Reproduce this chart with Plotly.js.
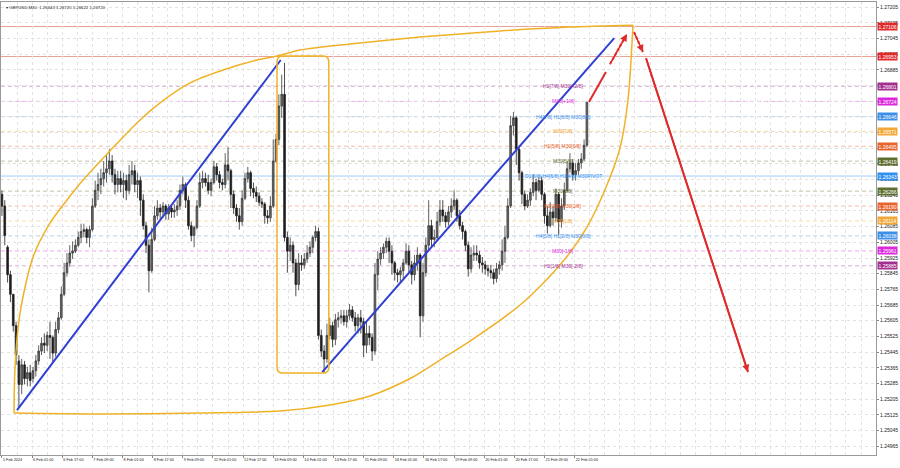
<!DOCTYPE html>
<html><head><meta charset="utf-8">
<script src="https://cdn.plot.ly/plotly-3.0.1.min.js"></script>
<style>html,body{margin:0;padding:0;background:#fff;}#chart{width:900px;height:468px;}</style>
</head><body><div id="chart"></div>
<script>
// GBPUSD M30, each drawn candle aggregates 3 M30 bars
const barStep = 3;
const openP = [1.2625,1.2619,1.2598,1.2584,1.2574,1.2558,1.2540,1.2528,1.2538,1.2531,
1.2534,1.2531,1.2535,1.2540,1.2545,1.2549,1.2548,1.2553,1.2552,1.2544,
1.2556,1.2562,1.2574,1.2585,1.2590,1.2595,1.2596,1.2599,1.2603,1.2606,
1.2607,1.2603,1.2607,1.2619,1.2627,1.2630,1.2633,1.2636,1.2638,1.2642,
1.2635,1.2630,1.2633,1.2630,1.2632,1.2627,1.2635,1.2637,1.2630,1.2632,
1.2622,1.2609,1.2599,1.2586,1.2602,1.2614,1.2618,1.2616,1.2619,1.2615,
1.2618,1.2616,1.2617,1.2619,1.2627,1.2630,1.2622,1.2609,1.2604,1.2608,
1.2619,1.2631,1.2633,1.2631,1.2627,1.2631,1.2639,1.2635,1.2631,1.2630,
1.2640,1.2637,1.2625,1.2618,1.2614,1.2611,1.2623,1.2633,1.2636,1.2628,
1.2626,1.2624,1.2621,1.2620,1.2614,1.2613,1.2619,1.2642,1.2653,1.2670,
1.2676,1.2603,1.2596,1.2599,1.2590,1.2579,1.2590,1.2589,1.2592,1.2595,
1.2598,1.2603,1.2606,1.2553,1.2545,1.2541,1.2553,1.2558,1.2551,1.2561,
1.2562,1.2563,1.2560,1.2563,1.2566,1.2562,1.2558,1.2562,1.2560,1.2548,
1.2554,1.2552,1.2545,1.2584,1.2592,1.2595,1.2598,1.2601,1.2596,1.2590,
1.2585,1.2584,1.2586,1.2590,1.2596,1.2589,1.2584,1.2590,1.2594,1.2563,
1.2585,1.2599,1.2609,1.2602,1.2603,1.2611,1.2617,1.2614,1.2611,1.2616,
1.2619,1.2622,1.2614,1.2609,1.2606,1.2599,1.2587,1.2594,1.2595,1.2594,
1.2590,1.2589,1.2587,1.2586,1.2585,1.2582,1.2587,1.2589,1.2596,1.2603,
1.2619,1.2660,1.2664,1.2648,1.2636,1.2625,1.2619,1.2622,1.2626,1.2631,
1.2627,1.2632,1.2625,1.2614,1.2609,1.2616,1.2613,1.2625,1.2611,1.2619,
1.2627,1.2638,1.2641,1.2635,1.2637,1.2641,1.2643,1.2650];
const highP = [1.2627,1.2622,1.2599,1.2586,1.2574,1.2560,1.2543,1.2541,1.2540,1.2537,
1.2538,1.2537,1.2543,1.2548,1.2552,1.2554,1.2555,1.2560,1.2553,1.2560,
1.2565,1.2578,1.2590,1.2595,1.2599,1.2601,1.2602,1.2606,1.2610,1.2610,
1.2608,1.2609,1.2623,1.2632,1.2636,1.2638,1.2642,1.2645,1.2648,1.2645,
1.2638,1.2637,1.2637,1.2636,1.2635,1.2640,1.2642,1.2640,1.2636,1.2634,
1.2625,1.2611,1.2602,1.2608,1.2619,1.2622,1.2620,1.2621,1.2620,1.2620,
1.2620,1.2620,1.2622,1.2630,1.2634,1.2631,1.2624,1.2611,1.2609,1.2622,
1.2636,1.2637,1.2636,1.2635,1.2633,1.2642,1.2641,1.2637,1.2633,1.2646,
1.2649,1.2638,1.2627,1.2620,1.2618,1.2627,1.2636,1.2639,1.2637,1.2631,
1.2629,1.2626,1.2623,1.2621,1.2617,1.2624,1.2653,1.2656,1.2676,1.2686,
1.2692,1.2606,1.2603,1.2601,1.2592,1.2595,1.2594,1.2595,1.2599,1.2601,
1.2604,1.2609,1.2608,1.2556,1.2548,1.2559,1.2562,1.2560,1.2564,1.2565,
1.2566,1.2566,1.2566,1.2569,1.2568,1.2565,1.2564,1.2566,1.2562,1.2560,
1.2558,1.2554,1.2590,1.2596,1.2598,1.2600,1.2603,1.2603,1.2599,1.2591,
1.2587,1.2588,1.2592,1.2600,1.2599,1.2591,1.2594,1.2598,1.2595,1.2590,
1.2603,1.2622,1.2612,1.2607,1.2616,1.2622,1.2622,1.2616,1.2619,1.2623,
1.2627,1.2623,1.2617,1.2611,1.2607,1.2601,1.2598,1.2599,1.2599,1.2596,
1.2593,1.2591,1.2589,1.2589,1.2587,1.2590,1.2591,1.2602,1.2609,1.2623,
1.2665,1.2667,1.2665,1.2649,1.2637,1.2627,1.2625,1.2628,1.2635,1.2633,
1.2634,1.2634,1.2626,1.2619,1.2621,1.2619,1.2628,1.2626,1.2623,1.2631,
1.2642,1.2646,1.2643,1.2641,1.2643,1.2646,1.2653,1.2672];
const lowP = [1.2614,1.2599,1.2580,1.2570,1.2555,1.2538,1.2516,1.2523,1.2528,1.2527,
1.2527,1.2529,1.2532,1.2538,1.2543,1.2544,1.2545,1.2541,1.2539,1.2542,
1.2554,1.2561,1.2573,1.2583,1.2588,1.2592,1.2595,1.2598,1.2600,1.2603,
1.2600,1.2598,1.2606,1.2618,1.2622,1.2625,1.2629,1.2631,1.2635,1.2631,
1.2625,1.2626,1.2626,1.2623,1.2622,1.2625,1.2630,1.2626,1.2623,1.2614,
1.2607,1.2595,1.2575,1.2585,1.2601,1.2612,1.2612,1.2613,1.2612,1.2612,
1.2613,1.2613,1.2614,1.2617,1.2625,1.2618,1.2607,1.2601,1.2598,1.2607,
1.2618,1.2628,1.2629,1.2625,1.2624,1.2630,1.2632,1.2628,1.2627,1.2628,
1.2632,1.2618,1.2615,1.2611,1.2607,1.2609,1.2622,1.2631,1.2624,1.2623,
1.2621,1.2619,1.2618,1.2610,1.2610,1.2611,1.2618,1.2641,1.2650,1.2664,
1.2601,1.2585,1.2591,1.2585,1.2573,1.2576,1.2586,1.2587,1.2590,1.2593,
1.2595,1.2601,1.2551,1.2542,1.2534,1.2539,1.2551,1.2547,1.2548,1.2557,
1.2559,1.2558,1.2557,1.2561,1.2560,1.2555,1.2554,1.2554,1.2542,1.2544,
1.2548,1.2540,1.2543,1.2576,1.2589,1.2592,1.2595,1.2590,1.2584,1.2581,
1.2580,1.2580,1.2582,1.2589,1.2585,1.2579,1.2581,1.2586,1.2552,1.2560,
1.2583,1.2596,1.2598,1.2598,1.2601,1.2609,1.2611,1.2608,1.2609,1.2613,
1.2617,1.2611,1.2607,1.2602,1.2596,1.2583,1.2585,1.2591,1.2591,1.2587,
1.2585,1.2584,1.2583,1.2582,1.2579,1.2580,1.2584,1.2586,1.2590,1.2602,
1.2618,1.2655,1.2640,1.2632,1.2620,1.2617,1.2618,1.2619,1.2624,1.2622,
1.2626,1.2622,1.2610,1.2605,1.2608,1.2609,1.2611,1.2604,1.2608,1.2617,
1.2626,1.2636,1.2632,1.2632,1.2635,1.2638,1.2642,1.2649];
const closeP = [1.2619,1.2604,1.2584,1.2574,1.2558,1.2543,1.2528,1.2538,1.2531,1.2534,
1.2530,1.2535,1.2540,1.2545,1.2549,1.2548,1.2553,1.2552,1.2544,1.2556,
1.2562,1.2574,1.2585,1.2590,1.2595,1.2596,1.2599,1.2603,1.2606,1.2607,
1.2603,1.2607,1.2619,1.2627,1.2630,1.2633,1.2636,1.2638,1.2642,1.2635,
1.2630,1.2633,1.2630,1.2632,1.2627,1.2635,1.2637,1.2630,1.2632,1.2622,
1.2609,1.2599,1.2586,1.2602,1.2614,1.2618,1.2616,1.2619,1.2615,1.2618,
1.2616,1.2617,1.2619,1.2627,1.2630,1.2622,1.2609,1.2604,1.2608,1.2619,
1.2631,1.2633,1.2631,1.2627,1.2631,1.2639,1.2635,1.2631,1.2630,1.2640,
1.2637,1.2625,1.2618,1.2614,1.2611,1.2623,1.2633,1.2636,1.2628,1.2626,
1.2624,1.2621,1.2620,1.2614,1.2613,1.2619,1.2642,1.2653,1.2670,1.2676,
1.2603,1.2596,1.2599,1.2590,1.2579,1.2590,1.2589,1.2592,1.2595,1.2598,
1.2603,1.2606,1.2553,1.2545,1.2541,1.2553,1.2558,1.2551,1.2561,1.2562,
1.2563,1.2560,1.2563,1.2566,1.2562,1.2558,1.2562,1.2560,1.2548,1.2554,
1.2552,1.2545,1.2584,1.2592,1.2595,1.2598,1.2601,1.2596,1.2590,1.2585,
1.2584,1.2586,1.2590,1.2596,1.2589,1.2584,1.2590,1.2594,1.2563,1.2585,
1.2599,1.2609,1.2602,1.2603,1.2611,1.2617,1.2614,1.2611,1.2616,1.2619,
1.2622,1.2614,1.2609,1.2606,1.2599,1.2587,1.2594,1.2595,1.2594,1.2590,
1.2589,1.2587,1.2586,1.2585,1.2582,1.2587,1.2589,1.2596,1.2603,1.2619,
1.2660,1.2664,1.2648,1.2636,1.2625,1.2619,1.2622,1.2626,1.2631,1.2627,
1.2632,1.2625,1.2614,1.2609,1.2616,1.2613,1.2625,1.2611,1.2619,1.2627,
1.2638,1.2641,1.2635,1.2637,1.2641,1.2643,1.2650,1.2672];

// time axis (M30 bar index), labels every 32 bars
const timeTickBars = [0,32,64,96,128,160,192,224,256,288,320,352,384,416,448,480,512,544,576,608];
const timeTickLabels = ["5 Feb 2024","6 Feb 01:00","6 Feb 17:00","7 Feb 09:00","8 Feb 01:00","8 Feb 17:00","9 Feb 09:00","12 Feb 01:00","12 Feb 17:00","13 Feb 09:00","14 Feb 01:00","14 Feb 17:00","15 Feb 09:00","16 Feb 01:00","16 Feb 17:00","19 Feb 09:00","20 Feb 01:00","20 Feb 17:00","21 Feb 09:00","22 Feb 01:00"];
const priceTicks = [1.27205,1.27125,1.27045,1.26965,1.26885,1.26805,1.26725,1.26645,1.26565,1.26485,1.26405,1.26325,1.26245,1.26165,1.26085,1.26005,1.25925,1.25845,1.25765,1.25685,1.25605,1.25525,1.25445,1.25365,1.25285,1.25205,1.25125,1.25045,1.24965];

// Murrey-math style levels
const levelPrices = [1.26801,1.26724,1.26646,1.26571,1.26495,1.26419,1.26343,1.26266,1.26190,1.26114,1.26038,1.25961,1.25885];
const levelNames = ["H1[7/8] M30[+2/8]","M30[+1/8]","H4[7/8] H1[6/8] M30[8/8]","M30[7/8]","H1[5/8] M30[6/8]","M30[5/8]","D1[5/8] H4[6/8] H1[4/8] M30PIVOT","M30[3/8]","H1[3/8] M30[2/8]","M30[1/8]","H4[5/8] H1[2/8] M30[0/8]","M30[-1/8]","H1[1/8] M30[-2/8]"];
const levelColors = ["#a3308f","#dc28dc","#3c8ee6","#f0a838","#e8642c","#5e6e2e","#3090f0","#5e6e2e","#e8642c","#f0a838","#3c8ee6","#dc28dc","#a3308f"];
const redLevels = [1.27106,1.26953];

// drawn objects (bar index, price)
const trend1Bars = [16, 296], trend1Price = [1.25149, 1.26935];
const trend2Bars = [340, 650], trend2Price = [1.25343, 1.27047];
const arcTopBars = [12.8,13.9,19.2,33.0,51.0,69.1,86.1,146.6,167.8,199.6,234.7,270.8,292.0,316.4,369.5,443.8,528.7,603.0,669.9];
const arcTopPrice = [1.25134,1.25369,1.25644,1.25930,1.26103,1.26221,1.26323,1.26629,1.26716,1.26818,1.26884,1.26935,1.26955,1.26986,1.27017,1.27052,1.27083,1.27103,1.27113];
const arcBotBars = [12.8,104.1,210.3,295.2,348.3,390.7,436.4,465.0,496.9,550.0,592.4,621.1,642.3,656.1,664.6,669.9];
const arcBotPrice = [1.25134,1.25129,1.25134,1.25144,1.25175,1.25221,1.25318,1.25404,1.25501,1.25685,1.25889,1.26083,1.26297,1.26486,1.26731,1.27113];
const boxBars = [292, 347], boxPrice = [1.25338, 1.26955];
const arrowUpBars = [623.2, 641.2], arrowUpPrice = [1.26721, 1.26874];
const arrowUpDashBars = [645.5, 663.5], arrowUpDashPrice = [1.26914, 1.27068];
const arrowDnDashBars = [671.0, 680.5], arrowDnDashPrice = [1.27078, 1.26976];
const arrowDnBars = [683.7, 792.0], arrowDnPrice = [1.26945, 1.25343];
const levelLabelBar = 596;

const FONT = "Liberation Sans, Arial, sans-serif";
const barIdx = openP.map((_, i) => i * barStep);
const allTags = levelPrices.concat(redLevels);
// price labels that sit fully under a coloured price tag are not visible
const priceTickText = priceTicks.map(v => allTags.some(t => Math.abs(t - v) < 0.00011) ? '' : v.toFixed(5));

const traces = [];
traces.push({type:'scatter', mode:'lines', x:arcTopBars, y:arcTopPrice, line:{color:'#efb225', width:1.5, shape:'spline', smoothing:0.8}, hoverinfo:'skip'});
traces.push({type:'scatter', mode:'lines', x:arcBotBars, y:arcBotPrice, line:{color:'#efb225', width:1.5, shape:'spline', smoothing:0.8}, hoverinfo:'skip'});
traces.push({type:'candlestick', x:barIdx, open:openP, high:highP, low:lowP, close:closeP,
  increasing:{line:{color:'#3a3a3a', width:0.8}, fillcolor:'#6a6a6a'},
  decreasing:{line:{color:'#1e1e1e', width:0.8}, fillcolor:'#1e1e1e'},
  whiskerwidth:0, hoverinfo:'skip'});
traces.push({type:'scatter', mode:'lines', x:trend1Bars, y:trend1Price, line:{color:'#2f3fd2', width:2}, hoverinfo:'skip'});
traces.push({type:'scatter', mode:'lines', x:trend2Bars, y:trend2Price, line:{color:'#2f3fd2', width:2}, hoverinfo:'skip'});
traces.push({type:'scatter', mode:'lines', x:arrowUpBars, y:arrowUpPrice, line:{color:'#e02a2a', width:2}, hoverinfo:'skip'});
traces.push({type:'scatter', mode:'lines', x:arrowUpDashBars, y:arrowUpDashPrice, line:{color:'#e02a2a', width:2, dash:'3px,2px'}, hoverinfo:'skip'});
traces.push({type:'scatter', mode:'lines', x:arrowDnDashBars, y:arrowDnDashPrice, line:{color:'#e02a2a', width:2, dash:'3px,2px'}, hoverinfo:'skip'});
traces.push({type:'scatter', mode:'lines', x:arrowDnBars, y:arrowDnPrice, line:{color:'#e02a2a', width:2}, hoverinfo:'skip'});

const shapes = [];
levelPrices.forEach((p, i) => {
  shapes.push({type:'line', xref:'paper', x0:0, x1:1, yref:'y', y0:p, y1:p, layer:'below',
    line:{color:levelColors[i], width:1, dash: i===6 ? 'solid' : '4px,3px'}, opacity: i===6 ? 0.45 : 0.4});
});
redLevels.forEach(p => {
  shapes.push({type:'line', xref:'paper', x0:0, x1:1, yref:'y', y0:p, y1:p, layer:'below',
    line:{color:'#e08a7a', width:1}, opacity:0.8});
});
// rounded box
{
  const x0 = boxBars[0], x1 = boxBars[1], yb = boxPrice[0], yt = boxPrice[1];
  const rx = 6, ry = 0.0003;
  const path = `M ${x0+rx},${yt} L ${x1-rx},${yt} Q ${x1},${yt} ${x1},${yt-ry} L ${x1},${yb+ry} Q ${x1},${yb} ${x1-rx},${yb} L ${x0+rx},${yb} Q ${x0},${yb} ${x0},${yb+ry} L ${x0},${yt-ry} Q ${x0},${yt} ${x0+rx},${yt} Z`;
  shapes.push({type:'path', xref:'x', yref:'y', path:path, line:{color:'#efb225', width:1.5}});
}

const annotations = [];
annotations.push({xref:'paper', yref:'paper', x:0, y:1, xanchor:'left', yanchor:'top', xshift:3, yshift:-1,
  text:'▾ GBPUSD,M30  1.26643 1.26720 1.26622 1.26720', showarrow:false, font:{family:FONT, size:4.3, color:'#222'}});
levelPrices.forEach((p, i) => {
  annotations.push({xref:'x', yref:'y', x:levelLabelBar, y:p, text:levelNames[i], showarrow:false,
    xanchor:'center', yanchor:'middle', font:{family:FONT, size:5, color:levelColors[i]}});
  annotations.push({xref:'paper', yref:'y', x:1, y:p, xanchor:'left', yanchor:'middle', xshift:1,
    text:p.toFixed(5), showarrow:false, bgcolor:levelColors[i], borderpad:0.5,
    font:{family:FONT, size:5, color:'#fff'}});
});
redLevels.forEach(p => {
  annotations.push({xref:'paper', yref:'y', x:1, y:p, xanchor:'left', yanchor:'middle', xshift:1,
    text:p.toFixed(5), showarrow:false, bgcolor:'#e02a2a', borderpad:0.5,
    font:{family:FONT, size:5, color:'#fff'}});
});
// arrow heads
[[arrowUpDashBars, arrowUpDashPrice], [arrowDnDashBars, arrowDnDashPrice], [arrowDnBars, arrowDnPrice]].forEach(([bx, py]) => {
  annotations.push({xref:'x', yref:'y', axref:'x', ayref:'y', x:bx[1], y:py[1], ax:bx[0], ay:py[0],
    showarrow:true, arrowhead:2, arrowsize:0.9, arrowwidth:1.6, arrowcolor:'#e02a2a', text:''});
});

const gridCol = '#e2e2e2';
const layout = {
  width:900, height:468,
  margin:{l:1, r:24, t:2, b:13, pad:0},
  paper_bgcolor:'#ffffff', plot_bgcolor:'#ffffff',
  showlegend:false, boxgap:0.15,
  font:{family:FONT, size:5, color:'#222'},
  xaxis:{range:[-1.0, 927.9], rangeslider:{visible:false}, fixedrange:true,
    tickmode:'array', tickvals:timeTickBars, ticktext:timeTickLabels, tickangle:0, automargin:false,
    ticklabelposition:'outside right', ticks:'outside', ticklen:2, tickcolor:'#888',
    tickfont:{family:FONT, size:3.8, color:'#222'},
    showgrid:true, gridcolor:gridCol, griddash:'dot', gridwidth:1,
    minor:{dtick:16, tick0:0, showgrid:true, gridcolor:gridCol, griddash:'dot', gridwidth:1},
    showline:true, mirror:true, linecolor:'#9a9a9a', linewidth:1, zeroline:false},
  yaxis:{range:[1.24920, 1.27231], side:'right', fixedrange:true, automargin:false,
    tickmode:'array', tickvals:priceTicks, ticktext:priceTickText,
    ticks:'outside', ticklen:2, tickcolor:'#888',
    tickfont:{family:FONT, size:5, color:'#222'},
    showgrid:true, gridcolor:gridCol, griddash:'dot', gridwidth:1,
    showline:true, mirror:true, linecolor:'#9a9a9a', linewidth:1, zeroline:false},
  shapes:shapes, annotations:annotations
};
Plotly.newPlot('chart', traces, layout, {displayModeBar:false, staticPlot:true});
</script>
</body></html>
